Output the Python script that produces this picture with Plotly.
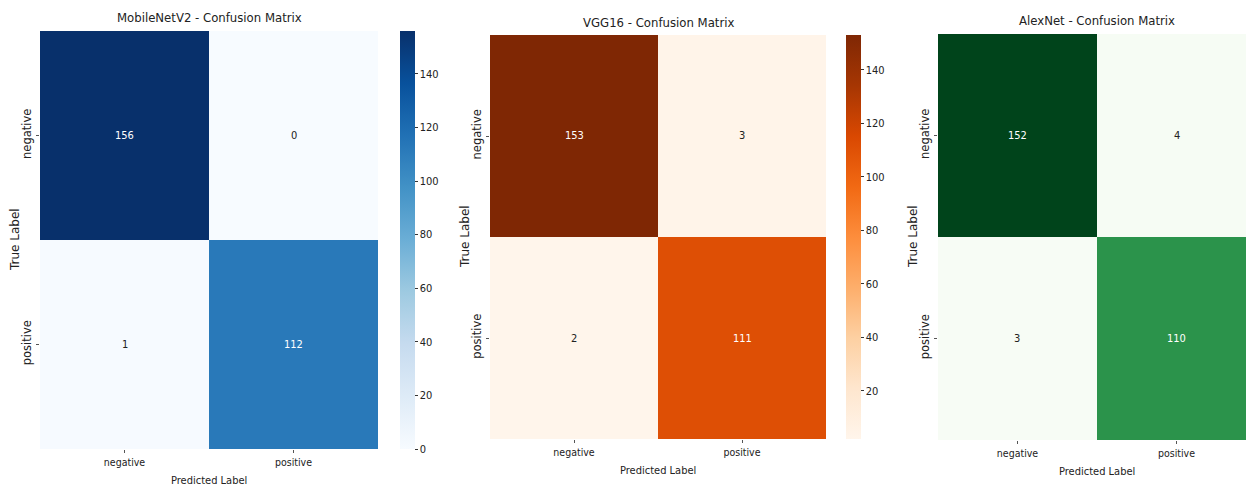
import plotly.graph_objects as go

# Confusion matrices (rows: true label, columns: predicted label)
labels = ["negative", "positive"]
models = ["MobileNetV2", "VGG16", "AlexNet"]
cm_mobilenet = [[156, 0], [1, 112]]
cm_vgg16 = [[153, 3], [2, 111]]
cm_alexnet = [[152, 4], [3, 110]]
matrices = [cm_mobilenet, cm_vgg16, cm_alexnet]
colorscales = ["Blues", "Oranges", "Greens"]

W, H = 1246, 486
FONT = "DejaVu Sans Condensed, DejaVu Sans, sans-serif"
VFONT = "DejaVu Sans, sans-serif"  # rotated labels use the regular width

# Pixel boxes for each panel: heatmap left/right/top/bottom, full heatmap width,
# colorbar left edge
panels = [
    dict(l=40, r=378, t=31, b=449, full=338, cb=400),
    dict(l=490, r=826, t=35, b=439, full=336, cb=846),
    dict(l=938, r=1246, t=34, b=440, full=318, cb=None),
]

fig = go.Figure()
annotations = []

for i, (name, cm, cs, p) in enumerate(zip(models, matrices, colorscales, panels)):
    ax = "" if i == 0 else str(i + 1)
    zmin = min(min(r) for r in cm)
    zmax = max(max(r) for r in cm)
    x0, x1 = p["l"] / W, p["r"] / W
    y0, y1 = 1 - p["b"] / H, 1 - p["t"] / H
    # visible part of the x range (the last panel runs off the right edge)
    xmax = -0.5 + 2 * (p["r"] - p["l"]) / p["full"]
    show_cb = p["cb"] is not None
    hm = go.Heatmap(
        z=cm, x=[0, 1], y=[0, 1],
        colorscale=cs, zmin=zmin, zmax=zmax,
        xaxis="x" + ax, yaxis="y" + ax,
        showscale=show_cb, hoverinfo="z",
    )
    if show_cb:
        hm.colorbar = dict(
            x=p["cb"] / W, xanchor="left", xref="paper",
            y=y0, yanchor="bottom", len=p["b"] - p["t"], lenmode="pixels",
            thickness=15, thicknessmode="pixels",
            outlinewidth=0, ticks="outside", ticklen=3, tickcolor="#333",
            tickfont=dict(family=FONT, size=11, color="#222"),
            dtick=20, xpad=0, ypad=0,
        )
    fig.add_trace(hm)

    fig.update_layout(**{
        "xaxis" + ax: dict(
            domain=[x0, x1], range=[-0.5, xmax], anchor="y" + ax,
            tickvals=[0, 1], ticktext=labels, ticks="outside", ticklen=3,
            tickcolor="#555", showgrid=False, zeroline=False, showline=False,
            tickfont=dict(family=FONT, size=10.5, color="#222"),
        ),
        "yaxis" + ax: dict(
            domain=[y0, y1], range=[1.5, -0.5], anchor="x" + ax,
            tickvals=[0, 1], ticktext=labels, ticks="outside", ticklen=3,
            tickcolor="#555", showgrid=False, zeroline=False, showline=False,
            tickangle=-90,
            tickfont=dict(family=VFONT, size=11.5, color="#222"),
        ),
    })

    # Cell value labels
    for r in range(2):
        for c in range(2):
            v = cm[r][c]
            frac = (v - zmin) / (zmax - zmin)
            annotations.append(dict(
                x=c, y=r, xref="x" + ax, yref="y" + ax, text=str(v),
                showarrow=False,
                font=dict(family=FONT, size=11,
                          color="white" if frac > 0.5 else "#222"),
            ))

    cx = (p["l"] + p["full"] / 2) / W
    # Title and axis labels
    annotations.append(dict(
        x=cx, y=1 - (p["t"] - 13) / H, xref="paper", yref="paper",
        xanchor="center", yanchor="middle",
        text=f"{name} - Confusion Matrix", showarrow=False,
        font=dict(family=FONT, size=13, color="#222"),
    ))
    annotations.append(dict(
        x=cx, y=1 - (p["b"] + 31) / H, xref="paper", yref="paper",
        xanchor="center", yanchor="middle",
        text="Predicted Label", showarrow=False,
        font=dict(family=FONT, size=11, color="#222"),
    ))
    annotations.append(dict(
        x=(p["l"] - 25) / W, y=(y0 + y1) / 2, xref="paper", yref="paper",
        xanchor="center", yanchor="middle",
        text="True Label", showarrow=False, textangle=-90,
        font=dict(family=VFONT, size=12, color="#222"),
    ))

fig.update_layout(
    width=W, height=H,
    margin=dict(l=0, r=0, t=0, b=0),
    paper_bgcolor="white", plot_bgcolor="white",
    annotations=annotations,
    showlegend=False,
)

fig.write_html("out.html")
